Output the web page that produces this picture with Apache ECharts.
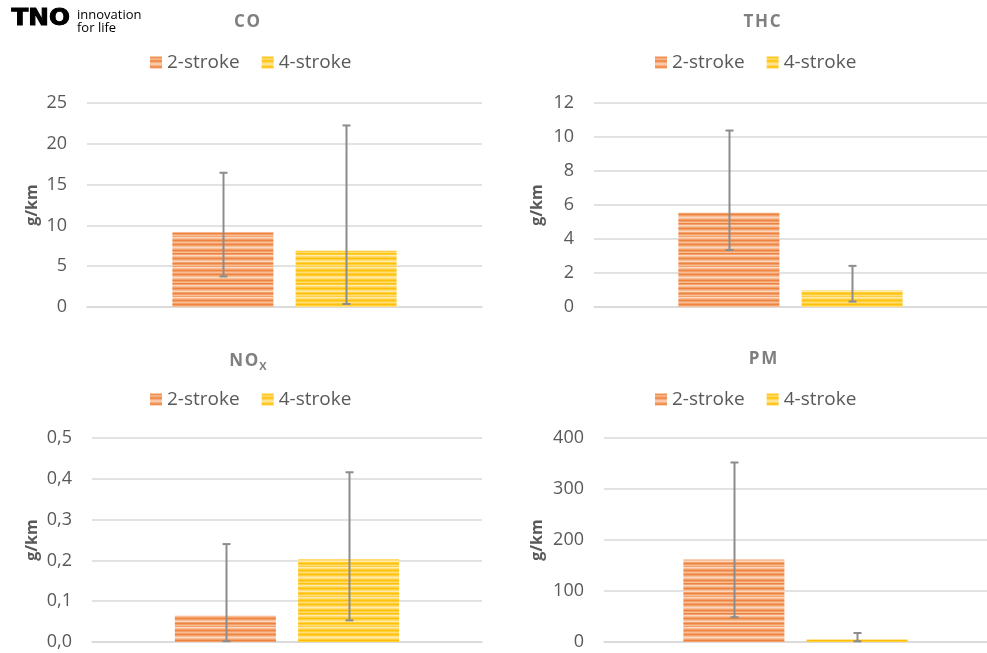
<!DOCTYPE html>
<html>
<head>
<meta charset="utf-8">
<script src="https://cdn.jsdelivr.net/npm/echarts@6/dist/echarts.min.js"></script>
<style>
html,body{margin:0;padding:0;background:#fff;}
#main{width:987px;height:653px;}
</style>
</head>
<body>
<div id="main"></div>
<script>
// ---- data ----
const seriesNames = ['2-stroke', '4-stroke'];
const panelTitles = ['CO', 'THC', 'NOX', 'PM'];
const coValues = [9.15, 6.9];
const coLow = [3.75, 0.37];
const coHigh = [16.45, 22.25];
const thcValues = [5.55, 0.98];
const thcLow = [3.35, 0.32];
const thcHigh = [10.38, 2.42];
const noxValues = [0.065, 0.203];
const noxLow = [0.002, 0.053];
const noxHigh = [0.240, 0.416];
const pmValues = [162, 4.7];
const pmLow = [48.6, 1.4];
const pmHigh = [352, 17.7];
const coTicks = {max: 25, interval: 5};
const thcTicks = {max: 12, interval: 2};
const noxTicks = {max: 0.5, interval: 0.1};
const pmTicks = {max: 400, interval: 100};

// ---- stripe textures ----
function stripePattern(cols) {
  const c = document.createElement('canvas');
  c.width = 4; c.height = cols.length;
  const ctx = c.getContext('2d');
  cols.forEach((col, i) => { ctx.fillStyle = col; ctx.fillRect(0, i, 4, 1); });
  return {image: c, repeat: 'repeat'};
}
const oD = '#EE8340', oM = '#F3A06A', oL = '#F7BF98', oW = '#FBD8BF';
const yD = '#FFC107', yM = '#FFCF3E', yL = '#FFDD78', yW = '#FFEBAE';
const orangeFill = stripePattern([oD,oM,oL,oM,oD,oM,oL,oW,oL,oM,oD,oM,oL,oD,oM,oW,oL,oM,oD,oM,oL,oW,oM,oD,oM,oL,oM,oW,oL,oM]);
const yellowFill = stripePattern([yD,yM,yL,yM,yD,yM,yL,yW,yL,yM,yD,yM,yL,yD,yM,yW,yL,yM,yD,yM,yL,yW,yM,yD,yM,yL,yM,yW,yL,yM]);
const fills = [orangeFill, yellowFill];

const FONT = 'Open Sans';
const LABEL = '#595959';
const GRIDC = '#D9D9D9';

const panels = [
  {title: 'CO', vals: coValues, lo: coLow, hi: coHigh, ticks: coTicks, grid: {left: 87, top: 103, width: 395, height: 204},
   titlePos: {left: 242, top: 9}, legendPos: {left: 150, top: 53}, nameGap: 47, fmt: v => String(v)},
  {title: 'THC', vals: thcValues, lo: thcLow, hi: thcHigh, ticks: thcTicks, grid: {left: 594, top: 103, width: 395, height: 204},
   titlePos: {left: 757, top: 9}, legendPos: {left: 655, top: 53}, nameGap: 49, fmt: v => String(v)},
  {title: 'NOX', vals: noxValues, lo: noxLow, hi: noxHigh, ticks: noxTicks, grid: {left: 92, top: 438, width: 390, height: 204},
   titlePos: {left: 243, top: 346}, legendPos: {left: 150, top: 390}, nameGap: 52, fmt: v => v.toFixed(1).replace('.', ',')},
  {title: 'PM', vals: pmValues, lo: pmLow, hi: pmHigh, ticks: pmTicks, grid: {left: 604, top: 438, width: 385, height: 204},
   titlePos: {left: 758, top: 346}, legendPos: {left: 655, top: 390}, nameGap: 59, fmt: v => String(v)}
];

const BAR_W = 101;
const OFFSET = 61.5;

const option = {
  backgroundColor: '#fff',
  animation: false,
  title: [], legend: [], grid: [], xAxis: [], yAxis: [], series: [],
  graphic: [
    {type: 'text', left: 11, top: 7, scaleX: 1.12, scaleY: 1.05, style: {text: 'TNO', font: '900 22px "DejaVu Sans"', fill: '#000', stroke: '#000', lineWidth: 1}},
    {type: 'text', left: 77, top: 9, style: {text: 'innovation\nfor life', font: '13px "Open Sans"', fill: '#000', lineHeight: 13}}
  ]
};

panels.forEach((p, i) => {
  option.title.push({
    text: p.title === 'NOX' ? '{b|N\u200aO}{s|X}' : p.title.split('').join('\u200a'),
    left: p.titlePos.left, top: p.titlePos.top, textAlign: 'center',
    textStyle: {fontFamily: FONT, fontSize: 17, fontWeight: 'bold', color: '#7F7F7F',
      rich: {b: {fontFamily: FONT, fontSize: 17, fontWeight: 'bold', color: '#7F7F7F'},
             s: {fontFamily: FONT, fontSize: 11, fontWeight: 'bold', color: '#7F7F7F', padding: [10, 0, 0, 1]}}}
  });
  option.legend.push({
    data: seriesNames, left: p.legendPos.left, top: p.legendPos.top, padding: 0, itemWidth: 12, itemHeight: 12, itemGap: 22,
    icon: 'rect', selectedMode: false,
    textStyle: {fontFamily: FONT, fontSize: 19, color: LABEL}
  });
  option.grid.push(p.grid);
  option.xAxis.push({
    type: 'category', gridIndex: i, data: [''],
    axisLine: {show: true, lineStyle: {color: GRIDC, width: 1.5}},
    axisTick: {show: false}, axisLabel: {show: false}
  });
  option.yAxis.push({
    type: 'value', gridIndex: i, min: 0, max: p.ticks.max, interval: p.ticks.interval,
    name: 'g/km', nameLocation: 'middle', nameRotate: 90, nameGap: p.nameGap,
    nameTextStyle: {fontFamily: FONT, fontSize: 16, fontWeight: 'bold', color: LABEL},
    axisLine: {show: false}, axisTick: {show: false},
    axisLabel: {margin: 20, fontFamily: FONT, fontSize: 18, color: LABEL, formatter: p.fmt},
    splitLine: {lineStyle: {color: GRIDC, width: 1.5}}
  });
  seriesNames.forEach((nm, k) => {
    option.series.push({
      type: 'bar', name: nm, xAxisIndex: i, yAxisIndex: i,
      data: [p.vals[k]], barWidth: BAR_W, barGap: '22%',
      itemStyle: {color: fills[k]}
    });
  });
  option.series.push({
    type: 'custom', xAxisIndex: i, yAxisIndex: i, z: 10, silent: true,
    data: [[0, p.lo[0], p.hi[0], 0], [0, p.lo[1], p.hi[1], 1]],
    renderItem: function (params, api) {
      const lo = api.coord([api.value(0), api.value(1)]);
      const hi = api.coord([api.value(0), api.value(2)]);
      const x = Math.round(lo[0] + (api.value(3) === 0 ? -OFFSET : OFFSET)) + 0.5;
      const st = {stroke: '#8C8C8C', lineWidth: 2};
      return {type: 'group', children: [
        {type: 'line', shape: {x1: x, y1: lo[1], x2: x, y2: hi[1]}, style: st},
        {type: 'line', shape: {x1: x - 4, y1: lo[1], x2: x + 4, y2: lo[1]}, style: st},
        {type: 'line', shape: {x1: x - 4, y1: hi[1], x2: x + 4, y2: hi[1]}, style: st}
      ]};
    }
  });
});

const chart = echarts.init(document.getElementById('main'), null, {renderer: 'canvas'});
chart.setOption(option);
</script>
</body>
</html>
